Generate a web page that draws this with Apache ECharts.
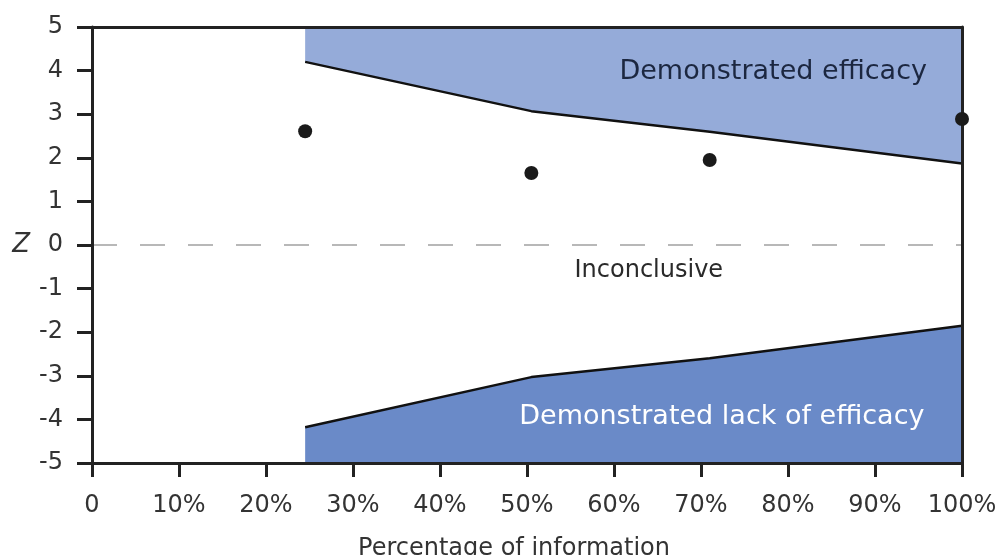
<!DOCTYPE html>
<html><head><meta charset="utf-8">
<script src="https://cdn.jsdelivr.net/npm/echarts@6/dist/echarts.min.js"></script>
<style>html,body{margin:0;padding:0;background:#fff}#c{width:1004px;height:555px}</style>
</head><body><div id="c"></div>
<script>
const xTicks = [0,10,20,30,40,50,60,70,80,90,100];
const boundaryX = [24.5, 50.5, 71, 100];
const upperZ = [4.2, 3.07, 2.6, 1.87];
const lowerZ = [-4.18, -3.03, -2.6, -1.85];
const pointX = [24.5, 50.5, 71, 100];
const pointZ = [2.61, 1.65, 1.95, 2.89];
const annotations = [
  {name:'Demonstrated efficacy', x:78.3, z:3.97, color:'#1c2740', size:27},
  {name:'Inconclusive', x:64, z:-0.6, color:'#2a2a2a', size:24},
  {name:'Demonstrated lack of efficacy', x:72.4, z:-3.95, color:'#ffffff', size:27}
];
const FONT = 'DejaVu Sans';
const LINE = {color:'#222',width:3};
const chart = echarts.init(document.getElementById('c'));
chart.setOption({
  animation:false,
  grid:{left:92,right:42,top:27,bottom:92,show:false,containLabel:false,outerBoundsMode:'none'},
  xAxis:[{type:'value',min:0,max:100,interval:10,z:10,
    name:'Percentage of information',nameLocation:'middle',nameGap:74,
    nameTextStyle:{fontFamily:FONT,fontSize:24,color:'#333',padding:[0,26,0,0]},
    axisLine:{onZero:false,lineStyle:LINE},
    axisTick:{show:true,length:14,lineStyle:LINE},
    axisLabel:{margin:31,fontFamily:FONT,fontSize:24,color:'#333',
      formatter:v=>v===0?'0':v+'%'},
    splitLine:{show:false}},
   {type:'value',position:'top',min:0,max:100,z:10,
    axisLine:{onZero:false,lineStyle:LINE},axisTick:{show:false},axisLabel:{show:false},splitLine:{show:false}}],
  yAxis:[{type:'value',min:-5,max:5,interval:1,z:10,
    name:'Z',nameLocation:'middle',nameGap:62,nameRotate:0,
    nameTextStyle:{fontFamily:FONT,fontSize:26,fontStyle:'italic',color:'#333'},
    axisLine:{onZero:false,lineStyle:LINE},
    axisTick:{show:true,length:15,lineStyle:LINE},
    axisLabel:{margin:29,fontFamily:FONT,fontSize:24,color:'#333'},
    splitLine:{show:false}},
   {type:'value',position:'right',min:-5,max:5,z:10,
    axisLine:{onZero:false,lineStyle:LINE},axisTick:{show:false},axisLabel:{show:false},splitLine:{show:false}}],
  series:[
    {type:'line',data:boundaryX.map((x,i)=>[x,upperZ[i]]),symbol:'none',
     lineStyle:{color:'#111',width:2.5},areaStyle:{origin:'end',color:'#95abd9',opacity:1},z:2},
    {type:'line',data:boundaryX.map((x,i)=>[x,lowerZ[i]]),symbol:'none',
     lineStyle:{color:'#111',width:2.5},areaStyle:{origin:'start',color:'#6a8ac8',opacity:1},z:2},
    {type:'line',data:[[0,0],[100.4,0]],symbol:'none',clip:false,
     lineStyle:{color:'#b8b8b8',width:2,type:[25,23]},z:1},
    {type:'scatter',data:pointX.map((x,i)=>[x,pointZ[i]]),symbol:'circle',symbolSize:14,
     itemStyle:{color:'#1a1a1a',opacity:1},clip:false,z:20},
    {type:'scatter',symbolSize:0,silent:true,z:21,
     data:annotations.map(a=>({name:a.name,value:[a.x,a.z],itemStyle:{opacity:1},
       label:{show:true,position:'inside',formatter:'{b}',fontFamily:FONT,fontSize:a.size,color:a.color,opacity:1}}))}
  ]
});
</script></body></html>
